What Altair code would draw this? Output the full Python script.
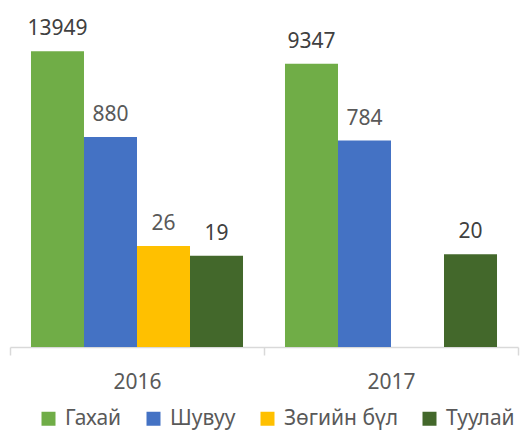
import altair as alt
import pandas as pd

years = ["2016", "2017"]
series = ["Гахай", "Шувуу", "Зөгийн бүл", "Туулай"]
values_2016 = [13949, 880, 26, 19]
values_2017 = [9347, 784, None, 20]
colors = ["#70AD47", "#4472C4", "#FFC000", "#43682B"]

rows = []
for y, vals in zip(years, [values_2016, values_2017]):
    for s, v in zip(series, vals):
        if v is not None:
            rows.append({"year": y, "series": s, "value": v})
df = pd.DataFrame(rows)

FONT = "Noto Sans"

x_enc = alt.X("year:N", sort=years, title=None,
              scale=alt.Scale(paddingInner=0, paddingOuter=0),
              axis=alt.Axis(labelAngle=0, labelFontSize=21, labelColor="#595959",
                            labelFont=FONT, labelPadding=16, domainColor="#D9D9D9",
                            domainWidth=1.5, tickColor="#D9D9D9", tickWidth=1.5,
                            tickSize=8, tickBand="extent"))
xo_enc = alt.XOffset("series:N", sort=series,
                     scale=alt.Scale(domain=series, paddingInner=0, paddingOuter=0.396))
y_enc = alt.Y("value:Q", title=None,
              scale=alt.Scale(type="log", domain=[1, 31623], nice=False),
              axis=None)

bars = alt.Chart(df).mark_bar().encode(
    x=x_enc, xOffset=xo_enc, y=y_enc, y2=alt.datum(1),
    color=alt.Color("series:N", sort=series,
                    scale=alt.Scale(domain=series, range=colors),
                    legend=alt.Legend(title=None, orient="none", direction="horizontal",
                                      legendX=28, legendY=382, symbolType="square",
                                      symbolSize=196, symbolStrokeWidth=0,
                                      labelFontSize=21, labelColor="#595959",
                                      labelFont=FONT, columnPadding=21, symbolOffset=0,
                                      labelOffset=6)),
)

text_dark = alt.Chart(df).transform_filter(
    alt.FieldOneOfPredicate(field="series", oneOf=[series[0], series[3]])
).mark_text(baseline="middle", dy=-22, fontSize=21, font=FONT, color="#404040").encode(
    x=alt.X("year:N", sort=years), xOffset=alt.XOffset("series:N", sort=series), y=alt.Y("value:Q"),
    text=alt.Text("value:Q", format="d"),
)
text_light = alt.Chart(df).transform_filter(
    alt.FieldOneOfPredicate(field="series", oneOf=[series[1], series[2]])
).mark_text(baseline="middle", dy=-22, fontSize=21, font=FONT, color="#595959").encode(
    x=alt.X("year:N", sort=years), xOffset=alt.XOffset("series:N", sort=series), y=alt.Y("value:Q"),
    text=alt.Text("value:Q", format="d"),
)

chart = alt.layer(bars, text_dark, text_light).properties(
    width=508, height=321,
    autosize=alt.AutoSizeParams(type="none"),
    padding={"left": 2, "top": 18, "right": 2, "bottom": 83},
).configure_view(stroke=None)

chart.save("out.html", embed_options={"renderer": "svg", "actions": False})
